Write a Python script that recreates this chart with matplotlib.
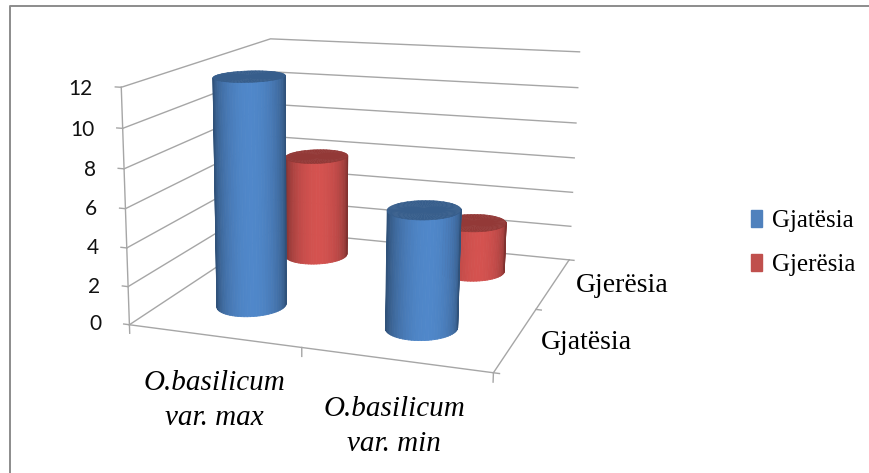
import numpy as np
import matplotlib
matplotlib.use('Agg')
import matplotlib.pyplot as plt
from matplotlib.lines import Line2D
from matplotlib.patches import Patch

W, H = 870, 473

categories = ['O.basilicum\nvar. max', 'O.basilicum\nvar. min']
series = ['Gjatësia', 'Gjerësia']
gjatesia = [12, 6]
gjeresia = [5.9, 2.8]
value_ticks = [0, 2, 4, 6, 8, 10, 12]

# where the box corners land in the picture: (category, depth, value) -> pixel
corners = [
    ((0, 0, 0), (131, 323)),
    ((2, 0, 0), (493, 375)),
    ((2, 2, 0), (570, 257)),
    ((0, 2, 0), (270, 233)),
    ((0, 0, 12), (120, 87)),
    ((0, 2, 12), (272, 38)),
    ((2, 2, 12), (579, 53)),
]


def fit_projection():
    rows, rhs = [], []
    for (u, v, w), (px, py) in corners:
        rows.append([u, v, w, 1, 0, 0, 0, 0, -px * u, -px * v, -px * w])
        rhs.append(px)
        rows.append([0, 0, 0, 0, u, v, w, 1, -py * u, -py * v, -py * w])
        rhs.append(py)
    h = np.linalg.lstsq(np.array(rows, float), np.array(rhs, float), rcond=None)[0]
    return np.array([h[:4], h[4:8], [0.01, 0.02, 0.001, 0.5], [h[8], h[9], h[10], 1.0]])


M = fit_projection()


def fig_pos(u, v, w):
    # figure fraction of a point of the box, for the labels
    p = M @ np.array([u, v, w, 1.0])
    return p[0] / p[3] / W, 1 - p[1] / p[3] / H


def cylinder(ax, cx, cy, height, rgb, zorder):
    # footprint of a circle on the floor, as seen in the picture
    a = np.array([0.170, 0.098])
    b = np.array([0.080, -0.180])
    t = np.linspace(0, np.pi, 36)
    x = cx + a[0] * np.cos(t) + b[0] * np.sin(t)
    y = cy + a[1] * np.cos(t) + b[1] * np.sin(t)
    xx = np.vstack([x, x])
    yy = np.vstack([y, y])
    zz = np.vstack([np.zeros_like(x), np.full_like(x, height)])
    rgb = np.array(rgb)
    shade = 0.62 + 0.42 * np.sin(t[:-1] + (t[1] - t[0]) / 2) ** 1.3
    cols = np.clip(rgb[None, :] * shade[:, None], 0, 1)
    face = np.ones((1, len(cols), 4))
    face[0, :, :3] = cols
    side = ax.plot_surface(xx, yy, zz, facecolors=face, shade=False, linewidth=0.6,
                           antialiased=True, rstride=1, cstride=1, zorder=zorder)
    side.set_snap(False)
    # lid
    t2 = np.linspace(0, 2 * np.pi, 60)
    r = np.array([0, 1.0])
    lx = cx + np.outer(r, a[0] * np.cos(t2) + b[0] * np.sin(t2))
    ly = cy + np.outer(r, a[1] * np.cos(t2) + b[1] * np.sin(t2))
    lz = np.full_like(lx, height)
    lid = tuple(rgb * 0.72)
    top = ax.plot_surface(lx, ly, lz, color=lid, shade=False, linewidth=0.4, edgecolors=lid,
                          antialiased=True, rstride=1, cstride=1, zorder=zorder + 0.5)
    top.set_snap(False)


fig = plt.figure(figsize=(W / 100, H / 100), dpi=100)
# only the top and left of the outer frame show
fig.add_artist(Line2D([10.5 / W, 10.5 / W, 1], [0, 1 - 6.5 / H, 1 - 6.5 / H], transform=fig.transFigure,
                      color='#8c8c8c', linewidth=1.4))

# 3d axes are forced square, so let it hang over the figure top and bottom
ax = fig.add_axes([0, (H - W) / 2 / H, 1, W / H], projection='3d', computed_zorder=False)
ax.set_proj_type('ortho')
ax.set_xticks([])
ax.set_yticks([])
ax.set_zticks([])
ax.set_axis_off()
ax.patch.set_alpha(0)
ax.get_proj = lambda: M
pad = (W - H) / 2

grid = dict(color='#a6a6a6', linewidth=1.0, zorder=1)
for val in value_ticks:
    ax.plot([0, 0, 2], [0, 2, 2], [val, val, val], **grid)
ax.plot([0, 0], [0, 0], [0, 12], **grid)
ax.plot([0, 2, 2], [0, 0, 2], [0, 0, 0], **grid)

# tick marks
for val in value_ticks:
    ax.plot([0, -0.035], [0, 0], [val, val], **grid)
    tx, ty = fig_pos(-0.17, 0, val - 0.17)
    fig.text(tx, ty, str(val), ha='right', va='center', fontsize=15,
             family='Lato', color='#111111')
for u in [0, 1, 2]:
    ax.plot([u, u], [0, 0], [0, -0.45], **grid)
for v in [0, 1, 2]:
    ax.plot([2, 2.03], [v, v], [0, 0], **grid)

for i, cat in enumerate(categories):
    tx, ty = fig_pos(i + 0.5, 0, -1.8)
    fig.text(tx, ty, cat, ha='center', va='top', fontsize=21, style='italic',
             family='Liberation Serif', color='black', linespacing=1.42)
for j, name in enumerate(series):
    tx, ty = fig_pos(2.13, j + 0.5, 0)
    fig.text(tx, ty, name, ha='left', va='center', fontsize=20,
             family='Liberation Serif', color='black')

blue = (0.30, 0.51, 0.76)
red = (0.80, 0.31, 0.30)
cylinder(ax, 0.485, 1.57, gjeresia[0], red, 3)
cylinder(ax, 1.495, 1.57, gjeresia[1], red, 4)
cylinder(ax, 0.49, 0.53, gjatesia[0], blue, 5)
cylinder(ax, 1.49, 0.5, gjatesia[1], blue, 6)

handles = [Patch(color='#4f81bd', label=series[0]), Patch(color='#c0504d', label=series[1])]
fig.legend(handles=handles, loc='center left', bbox_to_anchor=(729 / W, 1 - 243 / H), frameon=False,
           prop={'family': 'Liberation Serif', 'size': 18}, handlelength=0.42, handleheight=0.7,
           handletextpad=0.42, labelspacing=0.85)

ax.viewLim.intervalx = (0, W)
ax.viewLim.intervaly = (H + pad, -pad)
fig.savefig('out.png', dpi=100)
